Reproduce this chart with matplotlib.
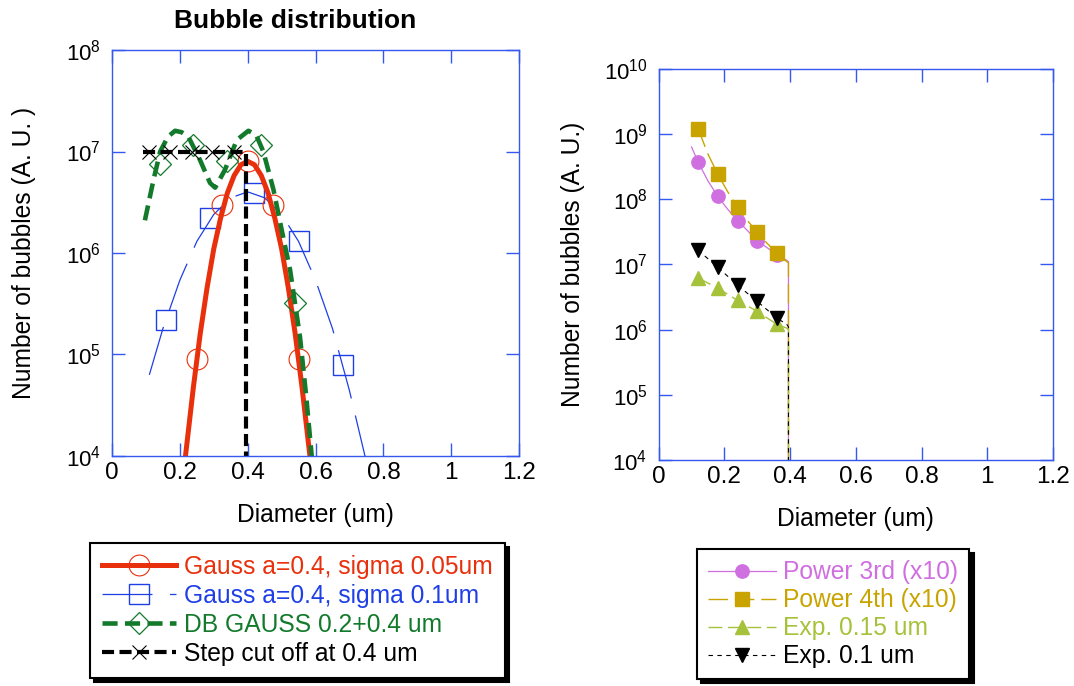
import matplotlib
matplotlib.use("Agg")
import matplotlib.pyplot as plt
from matplotlib.lines import Line2D
from matplotlib.ticker import NullLocator

plt.rcParams['font.family'] = ['Liberation Sans', 'DejaVu Sans']
plt.rcParams['mathtext.fontset'] = 'custom'
plt.rcParams['mathtext.rm'] = 'Liberation Sans'
plt.rcParams['mathtext.it'] = 'Liberation Sans:italic'
plt.rcParams['mathtext.bf'] = 'Liberation Sans:bold'

# ---- left panel: bubble distributions ----
gauss05_curve_x = [0.215, 0.24, 0.26, 0.28, 0.30, 0.32, 0.34, 0.36, 0.38, 0.40,
                   0.42, 0.44, 0.46, 0.48, 0.50, 0.52, 0.54, 0.56, 0.585]
gauss05_curve_y = [9e3, 4.8e4, 1.6e5, 4.5e5, 1.1e6, 2.2e6, 3.9e6, 5.8e6, 7.4e6, 8.0e6,
                   7.4e6, 5.8e6, 3.9e6, 2.2e6, 1.1e6, 4.5e5, 1.6e5, 4.8e4, 9e3]
gauss05_mark_x = [0.25, 0.325, 0.40, 0.475, 0.55]
gauss05_mark_y = [9e4, 3e6, 8e6, 3e6, 9e4]

gauss10_curve_x = [0.11, 0.15, 0.20, 0.25, 0.30, 0.35, 0.40, 0.45, 0.50, 0.55,
                   0.60, 0.65, 0.70, 0.75]
gauss10_curve_y = [6.3e4, 1.8e5, 5.4e5, 1.3e6, 2.4e6, 3.5e6, 4.0e6, 3.5e6, 2.4e6, 1.3e6,
                   5.4e5, 1.8e5, 4.4e4, 8.7e3]
gauss10_mark_x = [0.16, 0.29, 0.42, 0.55, 0.68]
gauss10_mark_y = [2.2e5, 2.2e6, 3.9e6, 1.3e6, 7.9e4]

dbg_curve_x = [0.097, 0.122, 0.142, 0.165, 0.186, 0.205, 0.225, 0.259, 0.289, 0.304,
               0.333, 0.368, 0.402, 0.425, 0.446, 0.476, 0.50, 0.525, 0.554, 0.572, 0.59]
dbg_curve_y = [2.1e6, 5.2e6, 1.0e7, 1.4e7, 1.6e7, 1.55e7, 1.4e7, 8.3e6, 4.9e6, 4.4e6,
               6.6e6, 1.3e7, 1.6e7, 1.45e7, 1.0e7, 4.2e6, 1.7e6, 6.8e5, 1.5e5, 4.0e4, 9e3]
dbg_mark_x = [0.14, 0.24, 0.34, 0.44, 0.54]
dbg_mark_y = [7.6e6, 1.15e7, 8.0e6, 1.15e7, 3.2e5]

step_line_x = [0.092, 0.395, 0.395]
step_line_y = [1e7, 1e7, 9e3]
step_mark_x = [0.11, 0.17, 0.235, 0.295, 0.36]
step_mark_y = [1e7, 1e7, 1e7, 1e7, 1e7]

left_labels = ['Gauss a=0.4, sigma 0.05um', 'Gauss a=0.4, sigma 0.1um',
               'DB GAUSS 0.2+0.4 um', 'Step cut off at 0.4 um']

# ---- right panel: power law / exponential distributions ----
size_x = [0.12, 0.18, 0.24, 0.30, 0.36]
pow3_y = [3.7e8, 1.1e8, 4.7e7, 2.3e7, 1.4e7]
pow4_y = [1.2e9, 2.4e8, 7.5e7, 3.1e7, 1.5e7]
exp15_y = [6.2e6, 4.3e6, 2.8e6, 1.9e6, 1.2e6]
exp10_y = [1.65e7, 9.0e6, 4.8e6, 2.7e6, 1.5e6]

pow3_line_x = [0.10, 0.12, 0.15, 0.18, 0.21, 0.24, 0.27, 0.30, 0.33, 0.36, 0.39, 0.395, 0.395]
pow3_line_y = [6.3e8, 3.7e8, 1.9e8, 1.1e8, 7.0e7, 4.7e7, 3.3e7, 2.3e7, 1.8e7, 1.4e7, 1.15e7, 1.1e7, 9e3]
pow4_line_x = [0.12, 0.15, 0.18, 0.21, 0.24, 0.27, 0.30, 0.33, 0.36, 0.39, 0.395, 0.395]
pow4_line_y = [1.2e9, 4.9e8, 2.4e8, 1.3e8, 7.5e7, 4.7e7, 3.1e7, 2.1e7, 1.5e7, 1.1e7, 1.05e7, 9e3]
exp_line_x = [0.12, 0.18, 0.24, 0.30, 0.36, 0.39, 0.395, 0.395]
exp15_line_y = [6.2e6, 4.3e6, 2.8e6, 1.9e6, 1.2e6, 1.05e6, 1.0e6, 9e3]
exp10_line_y = [1.65e7, 9.0e6, 4.8e6, 2.7e6, 1.5e6, 1.2e6, 1.1e6, 9e3]

right_labels = ['Power 3rd (x10)', 'Power 4th (x10)', 'Exp. 0.15 um', 'Exp. 0.1 um']

xticks = [0, 0.2, 0.4, 0.6, 0.8, 1.0, 1.2]
xtick_labels = ['0', '0.2', '0.4', '0.6', '0.8', '1', '1.2']

# colours
axis_blue = '#3558ee'
red = '#e8300c'
blue = '#1f3fe6'
green = '#137a2c'
pink = '#cf6fe0'
gold = '#c9a400'
lime = '#a6c23a'

fs = 17.75

fig = plt.figure(figsize=(10.74, 6.86), dpi=100)
axL = fig.add_axes([0.1043, 0.3353, 0.3790, 0.5918])
axR = fig.add_axes([0.6133, 0.3294, 0.3671, 0.5705])


def style_axes(ax, ymin, ymax):
    ax.set_yscale('log')
    ax.set_xlim(0, 1.2)
    ax.set_ylim(ymin, ymax)
    ax.yaxis.set_minor_locator(NullLocator())
    ax.set_xticks(xticks)
    ax.set_xticklabels(xtick_labels)
    for sp in ax.spines.values():
        sp.set_color(axis_blue)
        sp.set_linewidth(1.0)
    ax.tick_params(which='both', direction='in', top=True, right=True,
                   length=9.5, width=1.0, color=axis_blue)
    ax.tick_params(axis='x', labelsize=17.5, pad=4.5)
    ax.tick_params(axis='y', labelsize=16, pad=8)


# left panel
style_axes(axL, 1e4, 1e8)
axL.plot(gauss10_curve_x, gauss10_curve_y, color=blue, lw=0.9, ls=(0, (40, 14)))
axL.plot(gauss10_mark_x, gauss10_mark_y, ls='none', marker='s', ms=15,
         mfc='none', mec=blue, mew=1.0)
axL.plot(gauss05_curve_x, gauss05_curve_y, color=red, lw=3.6)
axL.plot(gauss05_mark_x, gauss05_mark_y, ls='none', marker='o', ms=15,
         mfc='none', mec=red, mew=0.8)
axL.plot(dbg_curve_x, dbg_curve_y, color=green, lw=3.3, ls=(0, (3.3, 1.6)))
axL.plot(dbg_mark_x, dbg_mark_y, ls='none', marker='D', ms=11,
         mfc='none', mec=green, mew=0.9)
axL.plot(step_line_x, step_line_y, color='black', lw=3.0, ls=(0, (2.9, 1.3)))
axL.plot(step_mark_x, step_mark_y, ls='none', marker='x', ms=10,
         mec='black', mew=0.8)

axL.set_xlabel('Diameter (um)', fontsize=fs)
axL.set_ylabel('Number of bubbles (A. U. )', fontsize=fs)
axL.xaxis.set_label_coords(0.5, -0.116)
axL.yaxis.set_label_coords(-0.187, 0.5)
fig.text(295 / 1074, 1 - 28.3 / 686, 'Bubble distribution', fontsize=19,
         fontweight='bold', ha='center', va='baseline')

# right panel
style_axes(axR, 1e4, 1e10)
axR.plot(pow3_line_x, pow3_line_y, color=pink, lw=0.9)
axR.plot(size_x, pow3_y, ls='none', marker='o', ms=9.6, color=pink)
axR.plot(pow4_line_x, pow4_line_y, color=gold, lw=1.0, ls=(0, (14, 5)))
axR.plot(size_x, pow4_y, ls='none', marker='s', ms=9.6, color=gold)
axR.plot(exp_line_x, exp15_line_y, color=lime, lw=1.0, ls=(0, (10, 4)))
axR.plot(size_x, exp15_y, ls='none', marker='^', ms=9.5, color=lime)
axR.plot(exp_line_x, exp10_line_y, color='black', lw=0.8, ls=(0, (4, 4)))
axR.plot(size_x, exp10_y, ls='none', marker='v', ms=9.5, color='black')

axR.set_xlabel('Diameter (um)', fontsize=fs)
axR.set_ylabel('Number of bubbles (A. U.)', fontsize=fs)
axR.xaxis.set_label_coords(0.5, -0.121)
axR.yaxis.set_label_coords(-0.187, 0.5)

# legends
left_handles = [
    Line2D([], [], color=red, lw=3.6, marker='o', ms=15, mfc='none', mec=red, mew=0.8),
    Line2D([], [], color=blue, lw=0.9, ls=(0, (40, 14)), marker='s', ms=15,
           mfc='none', mec=blue, mew=1.0),
    Line2D([], [], color=green, lw=3.3, ls=(0, (3.3, 1.6)), marker='D', ms=11,
           mfc='none', mec=green, mew=0.9),
    Line2D([], [], color='black', lw=3.0, ls=(0, (2.9, 1.3)), marker='x', ms=10,
           mec='black', mew=0.8),
]
right_handles = [
    Line2D([], [], color=pink, lw=0.9, marker='o', ms=9.6),
    Line2D([], [], color=gold, lw=1.0, ls=(0, (14, 5)), marker='s', ms=9.6),
    Line2D([], [], color=lime, lw=1.0, ls=(0, (10, 4)), marker='^', ms=9.5),
    Line2D([], [], color='black', lw=0.8, ls=(0, (4, 4)), marker='v', ms=9.5),
]

shadow = {'ox': 3, 'oy': -3, 'facecolor': 'black', 'edgecolor': 'black', 'alpha': 1}
legL = fig.legend(left_handles, left_labels, loc='upper left',
                  bbox_to_anchor=(90 / 1074, 1 - 542.7 / 686), borderaxespad=0,
                  fontsize=fs, fancybox=False, edgecolor='black', framealpha=1,
                  borderpad=0.5, labelspacing=0.2, handlelength=3.0,
                  handletextpad=0.3, numpoints=1,
                  labelcolor=[red, blue, green, 'black'], shadow=shadow)
legL.get_frame().set_linewidth(1.5)

legR = fig.legend(right_handles, right_labels, loc='upper left',
                  bbox_to_anchor=(697 / 1074, 1 - 549.3 / 686), borderaxespad=0,
                  fontsize=fs, fancybox=False, edgecolor='black', framealpha=1,
                  borderpad=0.45, labelspacing=0.16, handlelength=2.75,
                  handletextpad=0.3, numpoints=1,
                  labelcolor=[pink, gold, lime, 'black'], shadow=shadow)
legR.get_frame().set_linewidth(1.5)

fig.savefig('out.png', dpi=100)
